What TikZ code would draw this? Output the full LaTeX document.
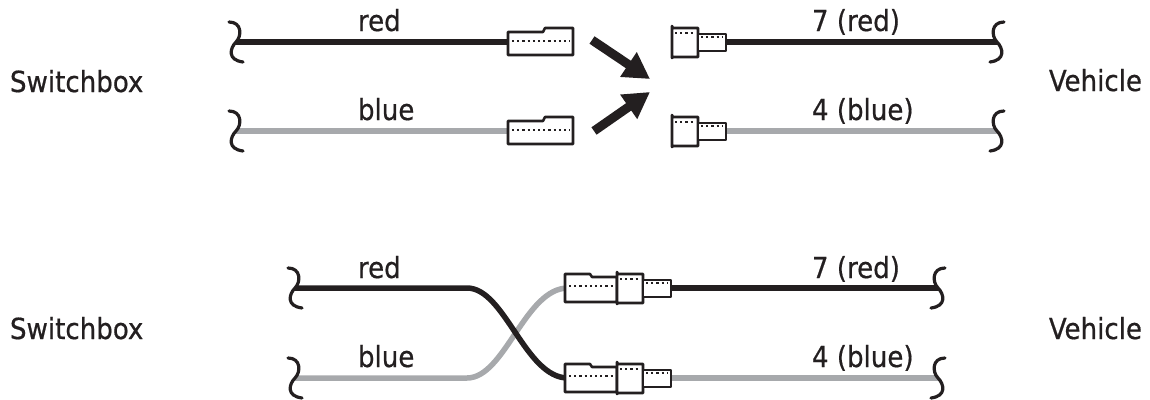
\documentclass[tikz,border=0pt]{standalone}
\usepackage{fontspec}
\setmainfont{DejaVu Sans Condensed}[FakeBold=0.6]
\usetikzlibrary{arrows.meta}
\definecolor{ink}{HTML}{231F20}
\definecolor{wiregray}{HTML}{A7A9AC}
\tikzset{
  wireblack/.style={draw=ink, line width=5.5pt},
  wiregrey/.style={draw=wiregray, line width=5.5pt},
  connline/.style={draw=ink, line width=2.6pt, fill=white, line join=round},
  dotrow/.style={draw=ink, line width=2.2pt, dash pattern=on 2.2pt off 3pt},
  brk/.style={draw=ink, line width=3.2pt, line cap=round},
  bigarrow/.style={draw=ink, line width=9pt, -{Triangle[length=26pt,width=28pt]}},
  lbl/.style={inner sep=0pt, outer sep=0pt, text=ink, font=\fontsize{29}{33}\selectfont},
  femaleA/.pic={
    \path[connline] (0,-10) -- (35,-10) -- (37,-14) -- (65,-14) -- (65,13) -- (0,13) -- cycle;
    \path[dotrow] (4,-1) -- (62,-1);
  },
  femaleB/.pic={
    \path[connline] (0,-14) -- (25,-14) -- (27,-11) -- (52,-11) -- (52,14) -- (0,14) -- cycle;
    \path[dotrow] (4,-2) -- (49,-2);
  },
  malepart/.pic={
    \path[connline] (0,-16) -- (1,-14) -- (26,-14) -- (26,15) -- (1,15) -- (0,16) -- cycle;
    \path[dotrow] (3,-9) -- (23,-9);
    \path[connline] (26,-8) rectangle (54,9);
    \path[dotrow] (29,-5) -- (51,-5);
  },
  brkpic/.pic={
    \path[brk] (-7,-20) .. controls (6,-20) and (6,-6) .. (0,0) .. controls (-6,6) and (-9,18) .. (7,20);
  }
}
\begin{document}
\begin{tikzpicture}[x=1pt,y=-1pt]
\useasboundingbox (0,0) rectangle (1150,399);

% ---------- top section ----------
\coordinate (tRl) at (236,42);  \coordinate (tRf) at (512,42);
\coordinate (tRm) at (700,42);  \coordinate (tRr) at (997,42);
\coordinate (tBl) at (236,131); \coordinate (tBf) at (512,131);
\coordinate (tBm) at (700,131); \coordinate (tBr) at (997,131);

\draw[wireblack] (tRl) -- (tRf);
\draw[wireblack] (tRm) -- (tRr);
\draw[wiregrey] (tBl) -- (tBf);
\draw[wiregrey] (tBm) -- (tBr);

\pic at (508,42) {femaleA};
\pic at (508,131) {femaleA};
\pic at (672,42) {malepart};
\pic at (672,131) {malepart};

\pic at (tRl) {brkpic};
\pic at (tBl) {brkpic};
\pic[xscale=-1] at (tRr) {brkpic};
\pic[xscale=-1] at (tBr) {brkpic};

\coordinate (a1s) at (592,40);  \coordinate (a1e) at (650,79);
\coordinate (a2s) at (594,131); \coordinate (a2e) at (650,92);
\draw[bigarrow] (a1s) -- (a1e);
\draw[bigarrow] (a2s) -- (a2e);

\node[lbl, anchor=base west] (sw1) at (10,92) {Switchbox};
\node[lbl, anchor=base east] (ve1) at (1142,91) {Vehicle};
\node[lbl, anchor=base west] (r1) at (358,31) {red};
\node[lbl, anchor=base west] (b1) at (358,120) {blue};
\node[lbl, anchor=base west] (r1v) at (812,31) {7 (red)};
\node[lbl, anchor=base west] (b1v) at (812,120) {4 (blue)};

% ---------- bottom section ----------
\coordinate (bRl) at (295,288); \coordinate (bRb) at (467,288); \coordinate (bRe) at (568,378);
\coordinate (bBl) at (295,378); \coordinate (bBb) at (467,378); \coordinate (bBe) at (568,288);
\coordinate (bRm) at (660,288); \coordinate (bRr) at (938,288);
\coordinate (bBm) at (660,378); \coordinate (bBr) at (938,378);

\draw[wiregrey] (bBl) -- (bBb) .. controls (505,378) and (525,288) .. (bBe);
\draw[wireblack] (bRl) -- (bRb) .. controls (505,288) and (525,378) .. (bRe);
\draw[wireblack] (bRm) -- (bRr);
\draw[wiregrey] (bBm) -- (bBr);

\pic at (565,288) {femaleB};
\pic at (617,288) {malepart};
\pic at (565,378) {femaleB};
\pic at (617,378) {malepart};

\pic at (bRl) {brkpic};
\pic at (bBl) {brkpic};
\pic[xscale=-1] at (bRr) {brkpic};
\pic[xscale=-1] at (bBr) {brkpic};

\node[lbl, anchor=base west] (sw2) at (10,339) {Switchbox};
\node[lbl, anchor=base east] (ve2) at (1142,339) {Vehicle};
\node[lbl, anchor=base west] (r2) at (358,278) {red};
\node[lbl, anchor=base west] (b2) at (358,367) {blue};
\node[lbl, anchor=base west] (r2v) at (812,278) {7 (red)};
\node[lbl, anchor=base west] (b2v) at (812,367) {4 (blue)};
\end{tikzpicture}
\end{document}
